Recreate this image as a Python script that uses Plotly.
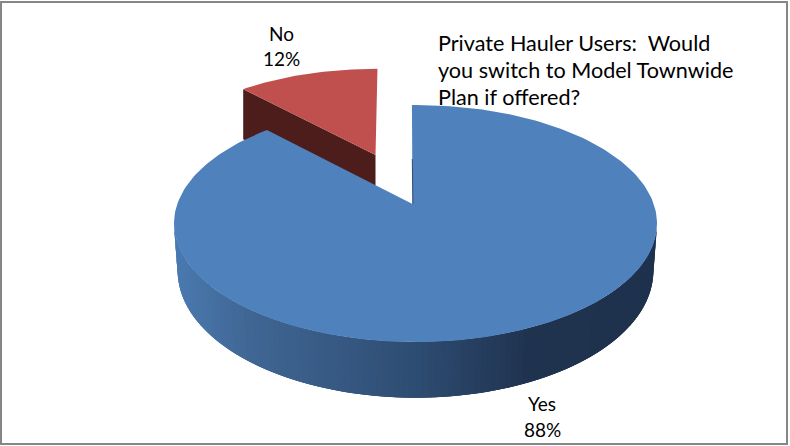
import numpy as np
import plotly.graph_objects as go

# --- data ---
categories = ["Yes", "No"]
values = [88, 12]
title_lines = ["Private Hauler Users:  Would", "you switch to Model Townwide", "Plan if offered?"]

# --- styles / layout constants (pixel-based axes) ---
W, H = 790, 446
BLUE, RED, DARK_RED = "#4f81bd", "#c0504d", "#4d1d1b"
FONT = "Lato"
LABEL_FS = 19
TITLE_FS = 21.6
K = 0.1646            # perspective strength
F, G = 238.2, 115.3   # disc half-width / height scale
WALL_STOPS = [(174, (74, 122, 176)), (250, (64, 102, 147)), (330, (55, 90, 133)),
              (415, (46, 77, 114)), (480, (38, 62, 95)), (530, (31, 51, 79)), (658, (30, 50, 78))]


def rim(deg, x0, y0, sx=1.0, sy=1.0):
    """Projected rim of a tilted disc for clockwise angle(s) from 12 o'clock."""
    t = np.radians(deg)
    d = 1 + K * np.cos(t)
    return x0 + sx * F * np.sin(t) / d, y0 - sy * G * np.cos(t) / d


def wall_colour(x):
    xs = [s[0] for s in WALL_STOPS]
    c = [np.interp(x, xs, [s[1][i] for s in WALL_STOPS]) for i in range(3)]
    return "rgb(%d,%d,%d)" % tuple(int(round(v)) for v in c)


share = [360 * v / sum(values) for v in values]
blue_start = -1.0
blue_end = blue_start + share[0]
red_start = 360.6 - share[1]
red_end = 360.6

fig = go.Figure()


def poly(x, y, color, lw=0.0):
    fig.add_trace(go.Scatter(x=list(x), y=list(y), mode="lines", fill="toself", fillcolor=color,
                             line=dict(color=color, width=lw), hoverinfo="skip", showlegend=False))


# "No" slice
RX0, RY0 = 375.5, 155
ang = np.linspace(red_start, red_end, 40)
rx, ry = rim(ang, RX0, RY0, 0.92, 0.87)
wall_depth = 50
poly([RX0, rx[0], rx[0], RX0], [RY0, ry[0], ry[0] + wall_depth, RY0 + wall_depth], DARK_RED)
poly(np.r_[RX0, rx], np.r_[RY0, ry], RED)

# "Yes" slice wall: strips overlap the next one so no seams show
CX, AX, AY = 415.5, 412.5, 204
BY0, BSX, BSY = 250, 0.985, 1.07
edges = np.linspace(99.5, 260.5, 121)
step = edges[1] - edges[0]
for a in edges[:-1]:
    seg = np.linspace(a, min(a + 3 * step, edges[-1]), 5)
    tx, ty = rim(seg, CX, AY)
    bx, by = rim(seg, CX, BY0, BSX, BSY)
    poly(np.r_[tx, bx[::-1]], np.r_[ty, by[::-1]], wall_colour(tx[:2].mean()))

# "Yes" slice top
ang = np.linspace(blue_start, blue_end, 240)
bx, by = rim(ang, CX, AY)
poly(np.r_[AX, bx], np.r_[AY, by], BLUE)
# thin inner-edge sliver at the start of the slice
fig.add_trace(go.Scatter(x=[AX - 0.2, AX + 0.4], y=[AY - 45, AY], mode="lines",
                         line=dict(color="#2f4e74", width=1), hoverinfo="skip", showlegend=False))


def text(x, y, s, size, anchor="center"):
    fig.add_annotation(x=x, y=y, text=s, showarrow=False, xanchor=anchor, yanchor="middle",
                       font=dict(family=FONT, size=size, color="black"))


label_pos = {"No": (281, 33, 58), "Yes": (542, 403, 429)}
for c, v in zip(categories, values):
    px, y1, y2 = label_pos[c]
    text(px, y1, c, LABEL_FS)
    text(px, y2, f"{v}%", LABEL_FS)
for s, y in zip(title_lines, (43, 70, 97)):
    text(436, y, s, TITLE_FS, "left")

fig.update_layout(
    width=W, height=H, margin=dict(l=0, r=0, t=0, b=0), showlegend=False,
    paper_bgcolor="white", plot_bgcolor="white",
    xaxis=dict(range=[0, W], visible=False, fixedrange=True),
    yaxis=dict(range=[H, 0], visible=False, fixedrange=True),
    shapes=[dict(type="rect", xref="x", yref="y", x0=1, y0=2, x1=787, y1=444,
                 line=dict(color="#868686", width=2), fillcolor="rgba(0,0,0,0)", layer="above")],
)
fig.write_html("out.html", config={"displayModeBar": False, "staticPlot": True},
               post_script="document.body.style.margin='0';document.body.style.overflow='hidden';")
